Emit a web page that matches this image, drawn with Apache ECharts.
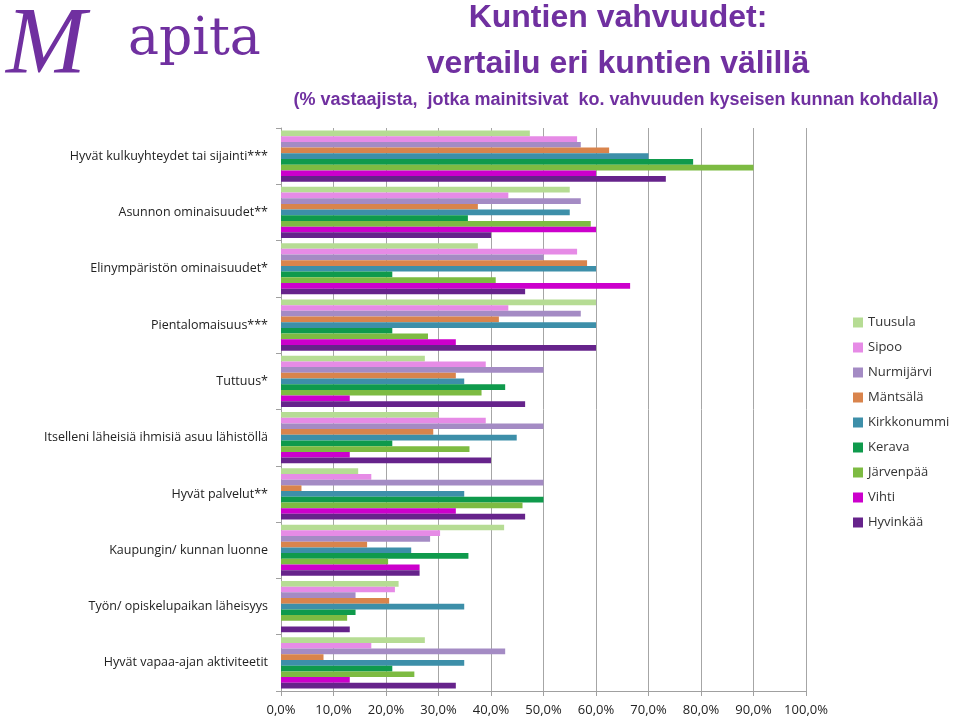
<!DOCTYPE html>
<html><head><meta charset="utf-8">
<script src="https://cdn.jsdelivr.net/npm/echarts@6/dist/echarts.min.js"></script>
<style>html,body{margin:0;padding:0;background:#fff}#c{width:960px;height:717px}</style>
</head><body><div id="c"></div>
<script>
const categories = [
  "Hyvät kulkuyhteydet tai sijainti***",
  "Asunnon ominaisuudet**",
  "Elinympäristön ominaisuudet*",
  "Pientalomaisuus***",
  "Tuttuus*",
  "Itselleni läheisiä ihmisiä asuu lähistöllä",
  "Hyvät palvelut**",
  "Kaupungin/ kunnan luonne",
  "Työn/ opiskelupaikan läheisyys",
  "Hyvät vapaa-ajan aktiviteetit"
];
const seriesNames = ["Tuusula","Sipoo","Nurmijärvi","Mäntsälä","Kirkkonummi","Kerava","Järvenpää","Vihti","Hyvinkää"];
const tuusula     = [47.4, 55.0, 37.5, 60.0, 27.4, 30.0, 14.7, 42.5, 22.4, 27.4];
const sipoo       = [56.4, 43.3, 56.4, 43.3, 39.0, 39.0, 17.2, 30.3, 21.7, 17.2];
const nurmijarvi  = [57.1, 57.1, 50.0, 57.1, 50.0, 50.0, 50.0, 28.4, 14.2, 42.7];
const mantsala    = [62.5, 37.5, 58.3, 41.5, 33.3, 29.0, 3.9, 16.4, 20.6, 8.1];
const kirkkonummi = [70.0, 55.0, 60.0, 60.0, 34.9, 44.9, 34.9, 24.8, 34.9, 34.9];
const kerava      = [78.5, 35.6, 21.2, 21.2, 42.7, 21.2, 50.0, 35.7, 14.2, 21.2];
const jarvenpaa   = [90.0, 59.0, 40.9, 28.0, 38.2, 35.9, 46.0, 20.4, 12.6, 25.4];
const vihti       = [60.0, 60.0, 66.5, 33.3, 13.1, 13.1, 33.3, 26.4, 0, 13.1];
const hyvinkaa    = [73.3, 40.0, 46.5, 60.0, 46.5, 40.0, 46.5, 26.4, 13.1, 33.3];
const xTicks = [0,10,20,30,40,50,60,70,80,90,100];

const values = [tuusula, sipoo, nurmijarvi, mantsala, kirkkonummi, kerava, jarvenpaa, vihti, hyvinkaa];
const colors = ["#b6dc94","#e68be6","#a48bc4","#d9844c","#3d8fa9","#0f9a4c","#7dbb42","#cc00cc","#66238b"];

const chart = echarts.init(document.getElementById('c'));
const purple = '#7030a0';
chart.setOption({
  backgroundColor: '#fff',
  animation: false,
  color: colors,
  graphic: [
    {type:'text', x: 6, y: 0, style:{text:'M', font:'italic 96px "Liberation Serif"', fill: purple}},
    {type:'text', x: 128, y: 14, style:{text:'apita', font:'52px "DejaVu Serif"', fill: purple}},
    {type:'text', x: 618, y: 2, style:{text:'Kuntien vahvuudet:', font:'bold 32px "Liberation Sans"', fill: purple, textAlign:'center'}},
    {type:'text', x: 618, y: 48, style:{text:'vertailu eri kuntien välillä', font:'bold 32px "Liberation Sans"', fill: purple, textAlign:'center'}},
    {type:'text', x: 616, y: 91, style:{text:'(% vastaajista,  jotka mainitsivat  ko. vahvuuden kyseisen kunnan kohdalla)', font:'bold 18px "Liberation Sans"', fill: purple, textAlign:'center'}}
  ],
  legend: {
    orient: 'vertical', left: 848, top: 311,
    itemWidth: 10, itemHeight: 10, itemGap: 12,
    icon: 'rect',
    data: seriesNames,
    textStyle: {fontSize: 13, color: '#333', fontFamily: 'Open Sans'}
  },
  grid: {left: 281, right: 154, top: 128, bottom: 26, containLabel: false},
  xAxis: {
    type: 'value', min: 0, max: 100, interval: 10,
    axisLine: {show: true, lineStyle: {color: '#a0a0a0'}},
    axisTick: {show: true, length: 5, lineStyle: {color: '#a0a0a0'}},
    splitLine: {show: true, lineStyle: {color: '#a6a6a6', width: 1}},
    axisLabel: {
      margin: 13, fontSize: 13, color: '#222', fontFamily: 'Open Sans',
      formatter: v => v.toFixed(1).replace('.', ',') + '%'
    }
  },
  yAxis: {
    type: 'category', data: categories, inverse: true,
    axisLine: {show: true, lineStyle: {color: '#a0a0a0'}},
    axisTick: {show: true, length: 5, lineStyle: {color: '#a0a0a0'}},
    axisLabel: {margin: 13, fontSize: 12.5, color: '#222', fontFamily: 'Open Sans'}
  },
  series: seriesNames.map((n, i) => ({
    name: n, type: 'bar', data: values[i],
    barGap: '0%', barCategoryGap: '9%'
  }))
});
</script></body></html>
